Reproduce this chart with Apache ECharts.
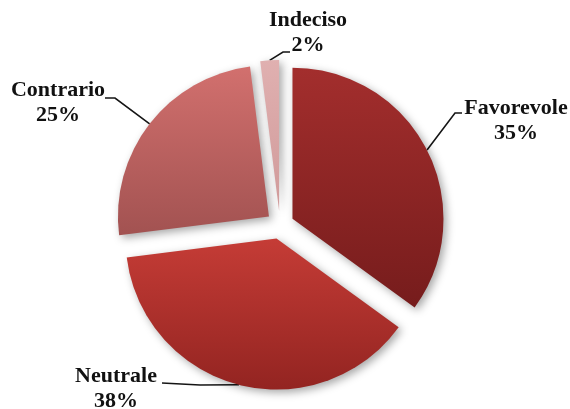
<!DOCTYPE html>
<html>
<head>
<meta charset="utf-8">
<script src="https://cdn.jsdelivr.net/npm/echarts@6/dist/echarts.min.js"></script>
<style>
  html, body { margin: 0; padding: 0; background: #fff; }
  #chart { width: 570px; height: 409px; }
</style>
</head>
<body>
<div id="chart"></div>
<script>
// data
const categories = ['Favorevole', 'Neutrale', 'Contrario', 'Indeciso'];
const values = [35, 38, 25, 2];

// slice shading, top -> bottom
const topColors = ['#a32e2d', '#c53c36', '#d2706e', '#e0b0b0'];
const bottomColors = ['#761c1c', '#932421', '#a25251', '#d09a9a'];

// label block centres and leader line bends [elbowX, elbowY, endX, endY]
const labelSpots = [[516, 121], [116, 389], [58, 103], [308, 33]];
const leaderBends = [[455, 113, 462, 113], [200, 385, 162, 383], [115, 98, 105, 98], [283, 52, 290, 52]];

const CX = 280, CY = 225, R = 151, EXPLODE = 14;

const chart = echarts.init(document.getElementById('chart'));

const total = values.reduce(function (a, b) { return a + b; }, 0);

// one pie per slice so each can be pulled out along its own bisector
let acc = 0;
const series = categories.map(function (name, k) {
  const mid = (90 - (acc + values[k] / 2) / total * 360) * Math.PI / 180;
  acc += values[k];
  return {
    type: 'pie',
    center: [CX + EXPLODE * Math.cos(mid), CY - EXPLODE * Math.sin(mid)],
    radius: R,
    startAngle: 90,
    animation: false,
    emphasis: { disabled: true },
    label: {
      formatter: '{b}\n{d}%',
      fontFamily: '"Liberation Serif", "DejaVu Serif", serif',
      fontWeight: 'bold',
      fontSize: 22,
      lineHeight: 25,
      color: '#111'
    },
    labelLine: {
      length: 12,
      length2: 8,
      lineStyle: { color: '#151515', width: 1.6 }
    },
    labelLayout: function (params) {
      const spot = labelSpots[k];
      const bend = leaderBends[k];
      const start = params.labelLinePoints ? params.labelLinePoints[0] : [bend[0], bend[1]];
      return {
        x: spot[0], y: spot[1], align: 'center', verticalAlign: 'middle',
        labelLinePoints: [start, [bend[0], bend[1]], [bend[2], bend[3]]]
      };
    },
    data: categories.map(function (n, i) {
      if (i !== k) {
        return {
          name: n, value: values[i],
          itemStyle: { color: 'rgba(0,0,0,0)' },
          label: { show: false }, labelLine: { show: false }
        };
      }
      return {
        name: n, value: values[i],
        itemStyle: {
          color: new echarts.graphic.LinearGradient(0, 0, 0, 1, [
            { offset: 0, color: topColors[i] },
            { offset: 1, color: bottomColors[i] }
          ]),
          shadowBlur: 8,
          shadowOffsetX: 3,
          shadowOffsetY: 3,
          shadowColor: 'rgba(0,0,0,0.35)'
        }
      };
    })
  };
});

chart.setOption({ animation: false, series: series });
</script>
</body>
</html>
